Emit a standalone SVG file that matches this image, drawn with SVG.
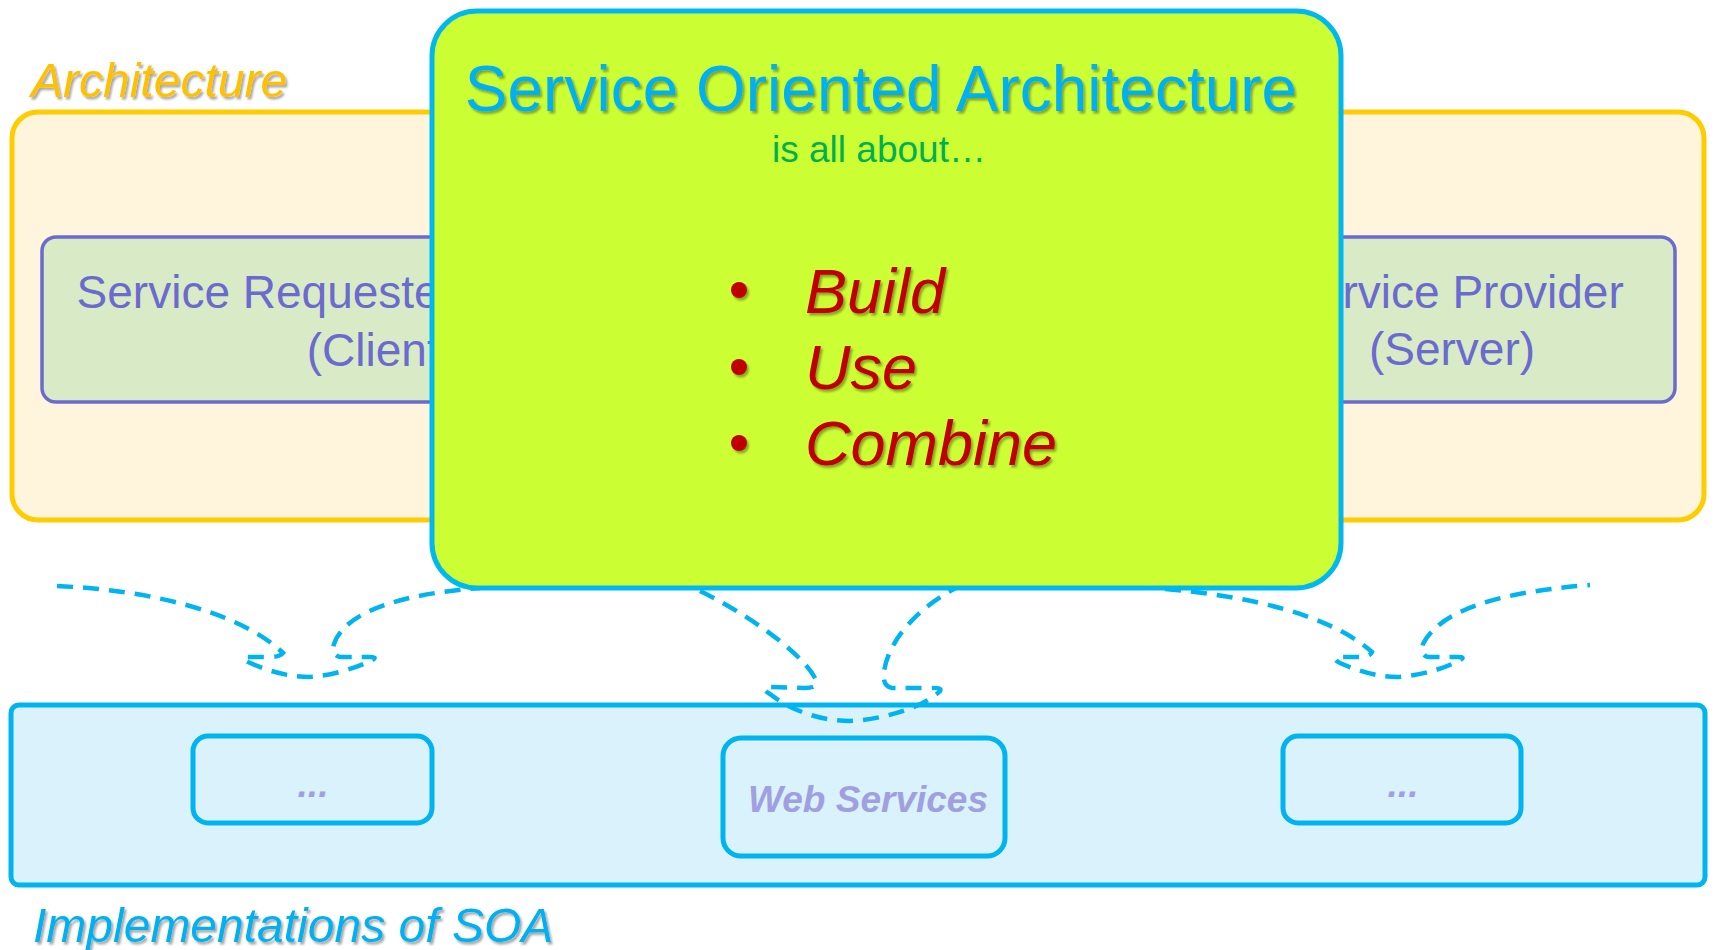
<svg xmlns="http://www.w3.org/2000/svg" width="1714" height="950" viewBox="0 0 1714 950">
  <defs>
    <filter id="sh" x="-10%" y="-20%" width="120%" height="150%">
      <feDropShadow dx="2" dy="2.5" stdDeviation="1.3" flood-color="#000" flood-opacity="0.35"/>
    </filter>
  </defs>
  <style>
    text { font-family: "Liberation Sans", Arial, sans-serif; }
    .arch { fill: #FFF5DC; stroke: #FFCC00; stroke-width: 5; }
    .role { fill: #D9EAC6; stroke: #6B6BCF; stroke-width: 3.5; }
    .roletxt { fill: #6B6BCF; font-size: 46px; }
    .impl { fill: #DAF2FC; stroke: #00B4F0; stroke-width: 5; }
    .sub { fill: #DAF2FC; stroke: #00B4F0; stroke-width: 5; }
    .subtxt { fill: #A0A0E0; font-size: 37px; font-style: italic; font-weight: bold; }
    .soa { fill: #CCFF33; stroke: #00B8F0; stroke-width: 5; }
    .dash { fill: none; stroke: #00B4F0; stroke-width: 4.5; stroke-dasharray: 16 10; }
    .bul { fill: #C00000; font-size: 63px; font-style: italic; }
  </style>

  <g id="architecture">
    <rect class="arch" x="12" y="112" width="1692" height="408" rx="26"/>
    <text x="31" y="97" font-size="48" font-style="italic" fill="#FFC000" filter="url(#sh)">Architecture</text>
  </g>

  <g id="service-requester">
    <rect class="role" x="42" y="237" width="460" height="165" rx="14"/>
    <text class="roletxt" text-anchor="end"><tspan x="455" y="308">Service Requester</tspan><tspan x="455" y="366">(Client)</tspan></text>
  </g>

  <g id="service-provider">
    <rect class="role" x="1220" y="237" width="455" height="165" rx="14"/>
    <text class="roletxt" text-anchor="middle"><tspan x="1455" y="308">Service Provider</tspan><tspan x="1452" y="365">(Server)</tspan></text>
  </g>

  <g id="implementations">
    <rect class="impl" x="11" y="705" width="1694" height="180" rx="8"/>
    <text x="33" y="942" font-size="48" font-style="italic" fill="#00B0F0" filter="url(#sh)">Implementations of SOA</text>
  </g>

  <g id="impl-left">
    <rect class="sub" x="193" y="736" width="239" height="87" rx="15"/>
    <text class="subtxt" x="313" y="797" text-anchor="middle">...</text>
  </g>

  <g id="web-services">
    <rect class="sub" x="723" y="738" width="282" height="118" rx="18"/>
    <text class="subtxt" x="868" y="812" text-anchor="middle">Web Services</text>
  </g>

  <g id="impl-right">
    <rect class="sub" x="1283" y="736" width="238" height="87" rx="15"/>
    <text class="subtxt" x="1403" y="797" text-anchor="middle">...</text>
  </g>

  <g id="connectors">
    <path class="dash" d="M57,586 C150,590 240,612 283,653 Q280,657 270,657 L246,657 Q240,658 248,662 C270,672 290,677 310,677 C330,676 355,668 368,662 Q380,657 370,657 L340,657 Q331,655 334,644 C345,612 400,594 480,588"/>
    <path class="dash" d="M700,591 C740,610 800,650 815,678 Q820,688 805,688 L768,687 Q760,688 770,694 C790,710 820,721 850,721 C880,720 920,708 935,695 Q948,687 930,688 L892,688 Q882,686 884,672 C888,640 920,605 960,586"/>
    <path class="dash" d="M1165,589 C1250,596 1330,615 1372,652 Q1370,657 1360,657 L1338,657 Q1332,659 1340,663 C1360,672 1380,677 1397,677 C1420,676 1445,668 1456,662 Q1468,657 1458,657 L1428,657 Q1420,655 1423,644 C1440,610 1500,592 1590,585"/>
  </g>

  <g id="soa">
    <rect class="soa" x="432" y="11" width="909" height="577" rx="45"/>
    <text x="881" y="111" font-size="64" text-anchor="middle" fill="#00B0F0" filter="url(#sh)">Service Oriented Architecture</text>
    <text x="879" y="162" font-size="37" text-anchor="middle" fill="#00B050">is all about…</text>
    <g filter="url(#sh)">
      <circle cx="739" cy="290" r="8" fill="#C00000"/>
      <circle cx="739" cy="367" r="8" fill="#C00000"/>
      <circle cx="739" cy="443" r="8" fill="#C00000"/>
      <text class="bul" x="805" y="313">Build</text>
      <text class="bul" x="805" y="389">Use</text>
      <text class="bul" x="805" y="465">Combine</text>
    </g>
  </g>
</svg>
